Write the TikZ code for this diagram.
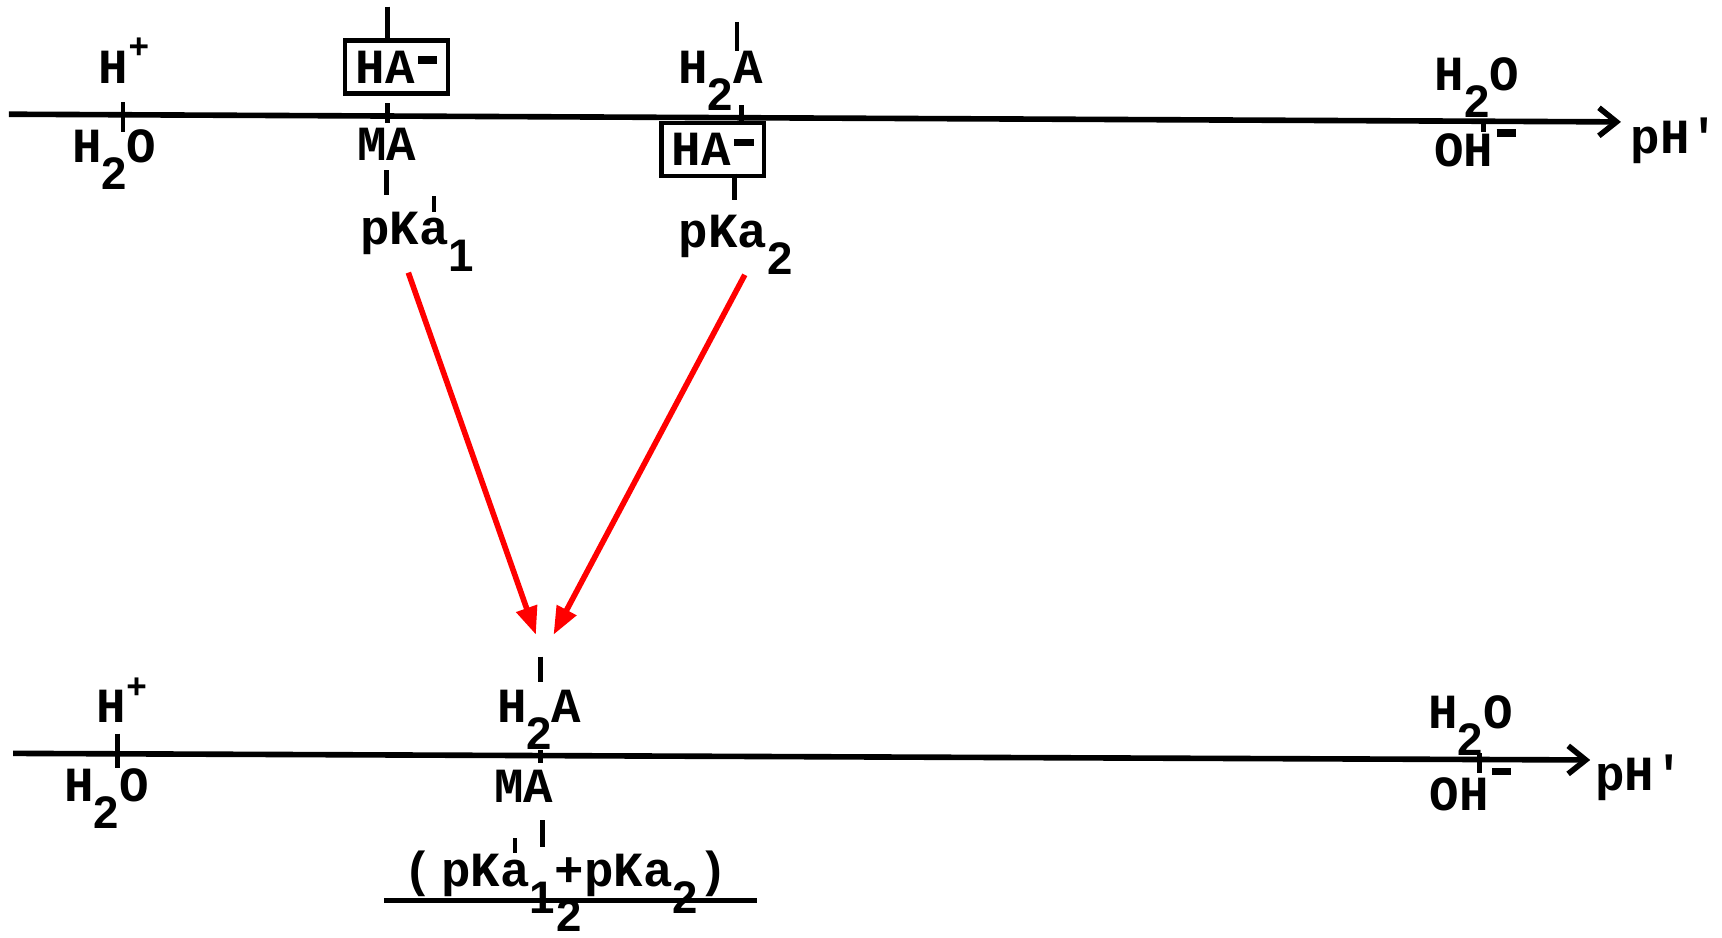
\documentclass[tikz,border=0pt]{standalone}
\usepackage{fontspec}
\setmonofont{Liberation Mono}
\setsansfont{Liberation Sans}
\usepackage{tikz}
\usetikzlibrary{arrows.meta}
\newcommand{\subd}[1]{\raisebox{-0.55em}{\sffamily\fontsize{13}{13}\selectfont #1}}
\newcommand{\supu}[1]{\raisebox{0.5em}{\fontsize{10}{10}\selectfont #1}}
\newcommand{\minusmark}[1][5.5pt]{\kern1pt\raisebox{#1}{\rule{5.5pt}{2.2pt}}}
\newcommand{\apr}{\ooalign{a\cr\hidewidth\raisebox{9.5pt}{\rule{1.3pt}{4.4pt}}\hidewidth\cr}}

\begin{document}
\begin{tikzpicture}[
  x=0.011cm, y=-0.011cm,
  lab/.style={font=\ttfamily\bfseries\fontsize{14}{16}\selectfont,inner sep=0pt,anchor=base},
  boxed/.style={draw,line width=1.3pt,font=\ttfamily\bfseries\fontsize{14}{16}\selectfont,
                inner sep=0pt,minimum width=1.03cm,minimum height=0.53cm},
  phaxis/.style={line width=1.6pt,-{Straight Barb[length=5pt,width=8pt]}},
  tk/.style={line width=1.3pt},
  redarr/.style={red,line width=1.6pt,-{Triangle[length=8pt,width=6pt]}}
]
\useasboundingbox (0,0) rectangle (1568,854);

\coordinate (ax1s) at (8,104);
\coordinate (ax1e) at (1476,111);
\coordinate (ax2s) at (12,686);
\coordinate (ax2e) at (1448,692);

\node[lab] (hplus1) at (113,76) {H\supu{+}};
\node[lab] (water1) at (104,148) {H\subd{2}O};
\node[boxed] (box1) at (361,61) {HA\minusmark};
\node[lab] (ma1) at (352,146) {MA};
\node[lab] (pka1) at (380,223) {pK\apr\subd{1}};
\node[lab] (acid1) at (656,76) {H\subd{2}A};
\node[boxed] (box2) at (649,136) {HA\minusmark};
\node[lab] (pka2) at (670,225) {pKa\subd{2}};
\node[lab] (wat1) at (1345,82) {H\subd{2}O};
\node[lab] (oh1) at (1343,152) {OH\minusmark[8.5pt]};
\node[lab] (ph1) at (1525,140) {pH'};

\node[lab] (hplus2) at (111,658) {H\supu{+}};
\node[lab] (water2) at (97,730) {H\subd{2}O};
\node[lab] (acid2) at (491,658) {H\subd{2}A};
\node[lab] (ma2) at (477,731) {MA};
\node[lab] (num) at (515,807) {(\,pK\apr\subd{1}+pKa\subd{2})};
\node[lab] (den) at (518,848) {\sffamily\fontsize{13}{13}\selectfont 2};
\node[lab] (wat2) at (1339,663) {H\subd{2}O};
\node[lab] (oh2) at (1339,738) {OH\minusmark[10pt]};
\node[lab] (ph2) at (1493,720) {pH'};

\coordinate (tip1) at (488,578);
\coordinate (tip2) at (504,578);
\coordinate (barL) at (350,820);
\coordinate (barR) at (689,820);

\draw[phaxis] (ax1s) -- (ax1e);
\draw[phaxis] (ax2s) -- (ax2e);
\foreach \x/\ya/\yb in {112/93/120,353/6/36,353/94/112,352/155/178,671/20/46,
  675/96/112,669/158/182,1351/109/120,107/668/699,492/598/621,492/683/695,
  494/747/771,1347/686/704}
  \draw[tk] (\x,\ya) -- (\x,\yb);
\draw[tk] (barL) -- (barR);

\draw[redarr] ([xshift=-0.09cm]pka1.south) -- (tip1);
\draw[redarr] ([xshift=0.09cm]pka2.south) -- (tip2);
\end{tikzpicture}
\end{document}
